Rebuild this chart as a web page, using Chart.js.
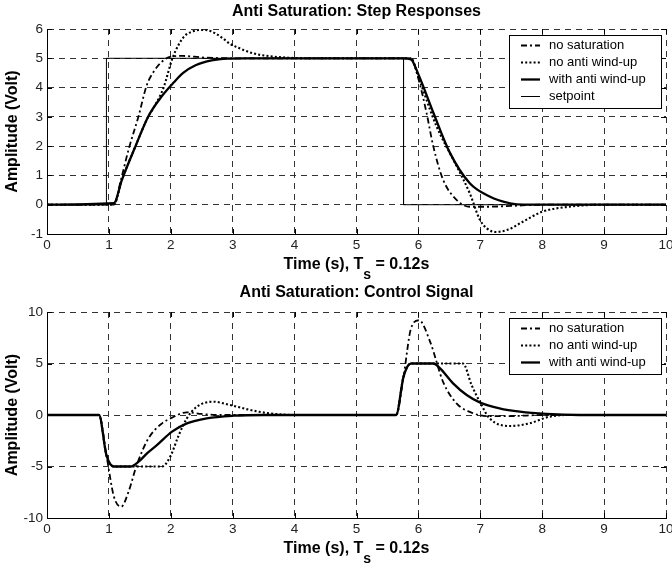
<!DOCTYPE html>
<html>
<head>
<meta charset="utf-8">
<script src="https://cdn.jsdelivr.net/npm/chart.js@4.4.1/dist/chart.umd.min.js"></script>
<style>
  html, body { margin: 0; padding: 0; background: #fff; overflow: hidden; }
  canvas { display: block; }
</style>
</head>
<body>
<canvas id="stepChart" width="672" height="282"></canvas>
<canvas id="ctrlChart" width="672" height="282"></canvas>
<script>
// shared time axis
const timeTicks = [0, 1, 2, 3, 4, 5, 6, 7, 8, 9, 10];
const stepTicks = [-1, 0, 1, 2, 3, 4, 5, 6];
const ctrlTicks = [-10, -5, 0, 5, 10];

// step responses
const setpointT = [0, 0.96, 0.96, 5.76, 5.76, 10];
const setpointV = [0, 0, 5, 5, 0, 0];

const stepNoSatT = [0, 1.08, 1.2, 1.32, 1.48, 1.61, 1.72, 1.85, 2.0, 2.2, 2.5, 3.0, 5.88, 6.0, 6.13, 6.24, 6.4, 6.62, 6.83, 7.1, 7.5, 8.0, 10];
const stepNoSatV = [0, 0, 0.9, 1.9, 3.03, 4.07, 4.53, 4.87, 5.06, 5.08, 5.03, 5.0, 5.0, 4.3, 3.15, 2.0, 0.85, 0.16, -0.07, -0.07, -0.04, 0, 0];

const stepNoAwT = [0, 1.08, 1.21, 1.43, 1.64, 1.72, 1.885, 2.03, 2.21, 2.36, 2.5, 2.65, 2.83, 2.96, 3.09, 3.33, 3.6, 3.9, 4.3, 5.88, 6.0, 6.29, 6.62, 6.83, 6.99, 7.1, 7.25, 7.45, 7.68, 8.0, 8.43, 9.0, 10];
const stepNoAwV = [0, 0, 0.85, 2.0, 3.03, 3.3, 4.01, 5.02, 5.73, 5.92, 5.97, 5.92, 5.7, 5.49, 5.36, 5.17, 5.07, 5.02, 5.0, 5.0, 4.35, 2.69, 1.31, 0.39, -0.5, -0.8, -0.93, -0.85, -0.59, -0.24, -0.07, 0, 0];

const stepAwT = [0, 1.08, 1.21, 1.43, 1.64, 1.86, 2.05, 2.2, 2.4, 2.66, 2.92, 3.2, 5.76, 5.88, 6.0, 6.24, 6.51, 6.83, 7.15, 7.48, 7.7, 10];
const stepAwV = [0, 0.05, 0.85, 2.0, 3.03, 3.72, 4.18, 4.5, 4.76, 4.93, 4.99, 5.0, 5.0, 4.96, 4.45, 3.15, 1.77, 0.73, 0.28, 0.05, 0, 0];

// control signals
const ctrlNoSatT = [0, 0.84, 0.96, 1.08, 1.2, 1.32, 1.45, 1.64, 1.86, 2.02, 2.26, 2.5, 2.8, 5.64, 5.76, 5.88, 6.01, 6.19, 6.4, 6.62, 6.83, 7.1, 7.5, 8.0, 10];
const ctrlNoSatV = [0, 0, -3.9, -7.9, -8.9, -7.4, -4.85, -2.26, -0.81, -0.26, 0.26, 0.1, 0, 0, 3.72, 8.4, 9.2, 7.1, 3.2, 1.1, 0.3, -0.1, -0.1, 0, 0];

const ctrlNoAwT = [0, 0.84, 0.96, 1.08, 1.86, 1.99, 2.13, 2.26, 2.42, 2.69, 2.96, 3.28, 3.6, 4.0, 5.64, 5.76, 5.88, 6.72, 6.86, 6.99, 7.15, 7.48, 7.8, 8.12, 8.4, 10];
const ctrlNoAwV = [0, 0, -3.9, -5, -5, -4.05, -1.94, -0.32, 0.8, 1.29, 0.97, 0.49, 0.16, 0, 0, 3.72, 5, 5, 2.9, 1.3, -0.32, -1.07, -0.8, -0.16, 0, 0];

const ctrlAwT = [0, 0.84, 0.96, 1.08, 1.35, 1.48, 1.62, 1.78, 2.02, 2.26, 2.58, 3.01, 3.5, 5.64, 5.76, 5.88, 6.24, 6.35, 6.56, 6.78, 6.99, 7.31, 7.64, 8.07, 8.6, 10];
const ctrlAwV = [0, 0, -3.9, -5, -5, -4.53, -3.7, -2.9, -1.62, -0.81, -0.32, -0.07, 0, 0, 3.72, 5, 5, 4.53, 3.07, 1.94, 1.23, 0.65, 0.32, 0.1, 0, 0];

const FONT = '"Liberation Sans", Arial, sans-serif';
Chart.defaults.font.family = FONT;

const zip = (t, v) => t.map((x, i) => ({ x: x, y: v[i] }));

// line styles
const DASHDOT = { borderDash: [6, 3, 2, 3], borderWidth: 1.8 };
const DOTTED = { borderDash: [2, 2.2], borderWidth: 2.1 };
const SOLID = { borderDash: [], borderWidth: 2.3 };
const THIN = { borderDash: [], borderWidth: 1 };

function series(label, t, v, style, smooth) {
  return Object.assign({
    label: label,
    data: zip(t, v),
    borderColor: '#000',
    pointRadius: 0,
    fill: false,
    tension: smooth ? 0.4 : 0,
    cubicInterpolationMode: smooth ? 'monotone' : 'default'
  }, style);
}

// axes ticks pointing inward, solid left/bottom axis, boxed legend, x title with subscript
const matlabAxes = {
  id: 'matlabAxes',
  afterDraw(chart, args, opts) {
    const { ctx, chartArea: a, scales: { x, y } } = chart;
    ctx.save();
    ctx.strokeStyle = '#000';
    ctx.lineWidth = 1;
    ctx.setLineDash([]);
    ctx.beginPath();
    x.ticks.forEach(t => {
      const px = Math.round(x.getPixelForValue(t.value)) + 0.5;
      ctx.moveTo(px, a.bottom); ctx.lineTo(px, a.bottom - 5);
      ctx.moveTo(px, a.top); ctx.lineTo(px, a.top + 5);
    });
    y.ticks.forEach(t => {
      const py = Math.round(y.getPixelForValue(t.value)) + 0.5;
      ctx.moveTo(a.left, py); ctx.lineTo(a.left + 5, py);
      ctx.moveTo(a.right, py); ctx.lineTo(a.right - 5, py);
    });
    const l = Math.round(a.left) + 0.5, b = Math.round(a.bottom) + 0.5;
    ctx.moveTo(l, Math.round(a.top)); ctx.lineTo(l, b);
    ctx.lineTo(Math.round(a.right) + 1, b);
    ctx.stroke();

    // legend box
    const sets = chart.data.datasets;
    const lx = opts.legendX, ly = opts.legendY, rowH = 17;
    const lh = 10 + rowH * (sets.length - 1) + 12;
    ctx.fillStyle = '#fff';
    ctx.fillRect(lx, ly, opts.legendW, lh);
    ctx.strokeRect(lx + 0.5, ly + 0.5, opts.legendW, lh);
    ctx.font = '13px ' + FONT;
    ctx.textBaseline = 'middle';
    ctx.textAlign = 'left';
    sets.forEach((ds, i) => {
      const ry = Math.round(ly + 10 + rowH * i) + 0.5;
      ctx.save();
      ctx.lineWidth = ds.borderWidth;
      ctx.setLineDash(ds.borderDash || []);
      ctx.strokeStyle = ds.borderColor;
      ctx.beginPath();
      ctx.moveTo(lx + 12, ry);
      ctx.lineTo(lx + 31, ry);
      ctx.stroke();
      ctx.restore();
      ctx.fillStyle = '#000';
      ctx.fillText(ds.label, lx + 40, ry);
    });

    // x axis title: Time (s), T_s = 0.12s
    const parts = ['Time (s), T', 's', ' = 0.12s'];
    ctx.font = 'bold 16px ' + FONT;
    const w0 = ctx.measureText(parts[0]).width;
    const w2 = ctx.measureText(parts[2]).width;
    ctx.font = 'bold 14px ' + FONT;
    const w1 = ctx.measureText(parts[1]).width;
    let tx = (a.left + a.right) / 2 - (w0 + w1 + w2) / 2;
    const ty = a.bottom + opts.xTitleOffset;
    ctx.fillStyle = '#000';
    ctx.font = 'bold 16px ' + FONT;
    ctx.fillText(parts[0], tx, ty);
    tx += w0;
    ctx.font = 'bold 14px ' + FONT;
    ctx.fillText(parts[1], tx, ty + 10);
    tx += w1;
    ctx.font = 'bold 16px ' + FONT;
    ctx.fillText(parts[2], tx, ty);
    ctx.restore();
  }
};

function makeChart(id, cfg) {
  return new Chart(document.getElementById(id), {
    type: 'line',
    data: { datasets: cfg.datasets },
    options: {
      responsive: false,
      animation: false,
      events: [],
      layout: { padding: { left: 0, right: 6, top: 0, bottom: 0 } },
      plugins: {
        legend: { display: false },
        tooltip: { enabled: false },
        title: {
          display: true,
          fullSize: false,
          text: cfg.title,
          color: '#000',
          font: { size: 16, weight: 'bold' },
          padding: { top: cfg.titleTop, bottom: cfg.plotTop - cfg.titleTop - 19.2 }
        },
        matlabAxes: { legendX: 509, legendY: cfg.legendY, legendW: 152, xTitleOffset: 31 }
      },
      scales: {
        x: {
          type: 'linear',
          min: 0, max: 10,
          afterBuildTicks: s => { s.ticks = timeTicks.map(v => ({ value: v })); },
          afterFit: s => { s.height = 282 - cfg.plotBottom; s.paddingLeft = 0; s.paddingRight = 0; },
          grid: { color: '#333', lineWidth: 1, drawTicks: false },
          border: { display: true, color: '#000', width: 1, dash: [6, 5] },
          ticks: { color: '#222', padding: 3, font: { size: 13.5 }, maxRotation: 0, autoSkip: false, callback: v => String(v) }
        },
        y: {
          type: 'linear',
          min: cfg.yTicks[0], max: cfg.yTicks[cfg.yTicks.length - 1],
          afterBuildTicks: s => { s.ticks = cfg.yTicks.map(v => ({ value: v })); },
          afterFit: s => { s.width = 47; s.paddingTop = 0; s.paddingBottom = 0; },
          grid: { color: '#333', lineWidth: 1, drawTicks: false },
          border: { display: true, color: '#000', width: 1, dash: [6, 5] },
          ticks: { color: '#222', padding: 4, font: { size: 13.5 }, autoSkip: false, callback: v => String(v) },
          title: {
            display: true,
            text: 'Amplitude (Volt)',
            color: '#000',
            font: { size: 16, weight: 'bold' },
            padding: { top: 3, bottom: 0 }
          }
        }
      }
    },
    plugins: [matlabAxes]
  });
}

makeChart('stepChart', {
  title: 'Anti Saturation: Step Responses',
  titleTop: 2.4, plotTop: 29, plotBottom: 234, legendY: 35,
  yTicks: stepTicks,
  datasets: [
    series('no saturation', stepNoSatT, stepNoSatV, DASHDOT, true),
    series('no anti wind-up', stepNoAwT, stepNoAwV, DOTTED, true),
    series('with anti wind-up', stepAwT, stepAwV, SOLID, true),
    series('setpoint', setpointT, setpointV, THIN, false)
  ]
});

makeChart('ctrlChart', {
  title: 'Anti Saturation: Control Signal',
  titleTop: 1.4, plotTop: 30, plotBottom: 236, legendY: 36,
  yTicks: ctrlTicks,
  datasets: [
    series('no saturation', ctrlNoSatT, ctrlNoSatV, DASHDOT, true),
    series('no anti wind-up', ctrlNoAwT, ctrlNoAwV, DOTTED, true),
    series('with anti wind-up', ctrlAwT, ctrlAwV, SOLID, true)
  ]
});
</script>
</body>
</html>
